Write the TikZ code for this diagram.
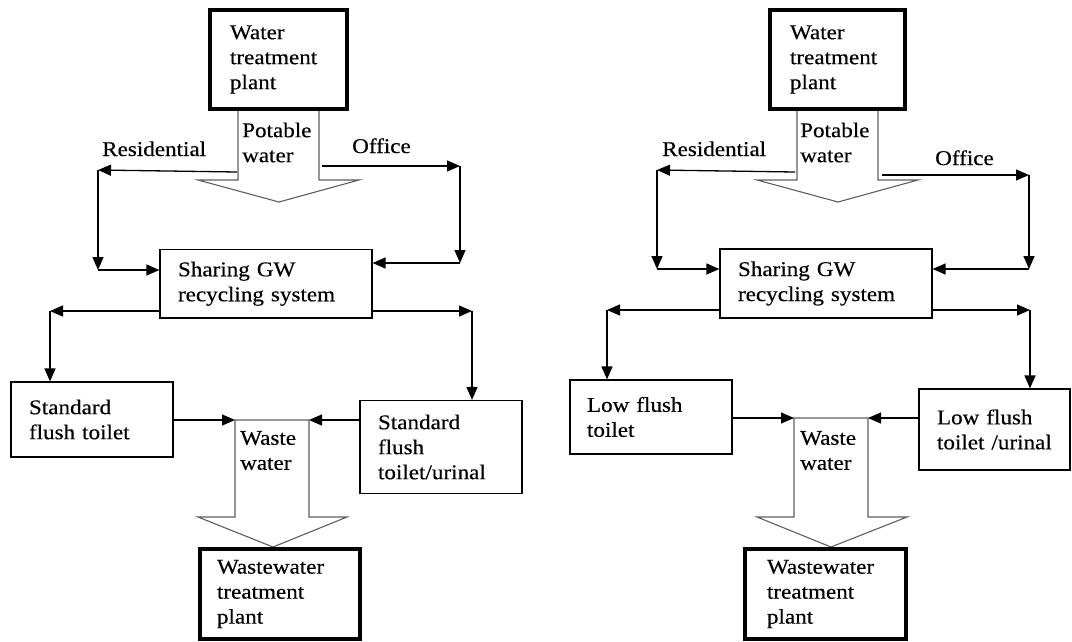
\documentclass[tikz,border=0pt]{standalone}
\usepackage{fontspec}
\setmainfont{Liberation Serif}[FakeStretch=1.1,FakeBold=0.35]
\usetikzlibrary{arrows.meta}
\definecolor{arrgray}{RGB}{95,95,95}
\newcommand\dfont{\fontsize{21}{25}\selectfont}
\tikzset{
  box/.style={draw=black, line width=1.2pt, rectangle, inner xsep=18pt, inner ysep=0pt, align=left, font=\dfont},
  plant/.style={box, line width=4pt},
  lbl/.style={inner sep=0pt, font=\dfont, align=left},
  conn/.style={draw=black, line width=1.3pt, -{Triangle[length=13pt,width=11pt]}},
  blockarrow/.style={draw=arrgray, line width=1.1pt, fill=white, line join=miter},
}
\begin{document}
\begin{tikzpicture}[x=1pt,y=-1pt]
\fill[white] (0,0) rectangle (1072,641);
\useasboundingbox (0,0) rectangle (1072,641);

% ================= LEFT =================
\draw[blockarrow] (238,109) -- (238,180) -- (198,180) -- (279,202) -- (359,180) -- (319,180) -- (319,109);
\node[plant, minimum width=137pt, minimum height=99pt, text width=97pt, inner xsep=20pt] (Lwtp) at (278.5,59.5) {Water\\treatment\\plant};
\node[lbl, anchor=west] (Lpot) at (242,142.5) {Potable\\water};
\node[lbl, anchor=base west] (Lresl) at (102,156) {Residential};
\node[lbl, anchor=base west] (Loffl) at (352,153) {Office};

\node[box, minimum width=212pt, minimum height=68.5pt, text width=176pt] (Lsh) at (266,283.75) {Sharing GW\\recycling system};

\coordinate (Lr0) at (237,172);
\coordinate (Lr1) at (98,170);
\coordinate (Lr2) at (98,270);
\draw[conn] (Lr0) -- (Lr1);
\draw[conn] (Lr1) -- (Lr2);
\draw[conn] (Lr2) -- (Lr2 -| Lsh.west);

\coordinate (Lo0) at (322,166);
\coordinate (Lo1) at (460,166);
\coordinate (Lo2) at (460,263);
\draw[conn] (Lo0) -- (Lo1);
\draw[conn] (Lo1) -- (Lo2);
\draw[conn] (Lo2) -- (Lo2 -| Lsh.east);

\node[box, minimum width=162pt, minimum height=75pt, text width=126pt] (Lsft) at (92,419.5) {Standard\\flush toilet};
\node[box, minimum width=162pt, minimum height=93pt, text width=126pt] (Lsftu) at (441,447) {Standard\\flush\\toilet/urinal};

\coordinate (Ll1) at (50,311);
\draw[conn] (Lsh.west |- Ll1) -- (Ll1);
\draw[conn] (Ll1) -- (Ll1 |- Lsft.north);
\coordinate (Lrr1) at (472,311);
\draw[conn] (Lsh.east |- Lrr1) -- (Lrr1);
\draw[conn] (Lrr1) -- (Lrr1 |- Lsftu.north);

\draw[blockarrow] (235,420) -- (235,517) -- (198,517) -- (273,547) -- (347,517) -- (309,517) -- (309,420) -- cycle;
\coordinate (Lw1) at (235,420);
\coordinate (Lw2) at (309,420);
\draw[conn] (Lsft.east |- Lw1) -- (Lw1);
\draw[conn] (Lsftu.west |- Lw2) -- (Lw2);
\node[lbl, anchor=west] (Lwl) at (240,450.5) {Waste\\water};

\node[plant, minimum width=160pt, minimum height=90pt, text width=126pt, inner xsep=17pt] (Lwwtp) at (280,594) {Wastewater\\treatment\\plant};

% ================= RIGHT =================
\draw[blockarrow] (797,109) -- (797,180) -- (757,180) -- (838,202) -- (918,180) -- (878,180) -- (878,109);
\node[plant, minimum width=135pt, minimum height=99pt, text width=95pt, inner xsep=20pt] (Rwtp) at (837.5,59.5) {Water\\treatment\\plant};
\node[lbl, anchor=west] (Rpot) at (800,142.5) {Potable\\water};
\node[lbl, anchor=base west] (Rresl) at (662,156) {Residential};
\node[lbl, anchor=base west] (Roffl) at (935,165) {Office};

\node[box, minimum width=212pt, minimum height=69pt, text width=176pt] (Rsh) at (826,283.5) {Sharing GW\\recycling system};

\coordinate (Rr0) at (795,172);
\coordinate (Rr1) at (657,170);
\coordinate (Rr2) at (657,269);
\draw[conn] (Rr0) -- (Rr1);
\draw[conn] (Rr1) -- (Rr2);
\draw[conn] (Rr2) -- (Rr2 -| Rsh.west);

\coordinate (Ro0) at (882,175);
\coordinate (Ro1) at (1029,175);
\coordinate (Ro2) at (1029,269);
\draw[conn] (Ro0) -- (Ro1);
\draw[conn] (Ro1) -- (Ro2);
\draw[conn] (Ro2) -- (Ro2 -| Rsh.east);

\node[box, minimum width=162pt, minimum height=74pt, text width=128pt, inner xsep=17pt] (Rlft) at (651,417) {Low flush\\toilet};
\node[box, minimum width=151pt, minimum height=81pt, text width=115pt] (Rlftu) at (994.5,429.5) {Low flush\\toilet~/urinal};

\coordinate (Rl1) at (607,310);
\draw[conn] (Rsh.west |- Rl1) -- (Rl1);
\draw[conn] (Rl1) -- (Rl1 |- Rlft.north);
\coordinate (Rrr1) at (1030,310);
\draw[conn] (Rsh.east |- Rrr1) -- (Rrr1);
\draw[conn] (Rrr1) -- (Rrr1 |- Rlftu.north);

\draw[blockarrow] (794,418) -- (794,517) -- (757,517) -- (831,547) -- (907,517) -- (868,517) -- (868,418) -- cycle;
\coordinate (Rw1) at (794,418);
\coordinate (Rw2) at (868,418);
\draw[conn] (Rlft.east |- Rw1) -- (Rw1);
\draw[conn] (Rlftu.west |- Rw2) -- (Rw2);
\node[lbl, anchor=west] (Rwl) at (800,450.5) {Waste\\water};

\node[plant, minimum width=161pt, minimum height=90pt, text width=117pt, inner xsep=22pt] (Rwwtp) at (825.5,594) {Wastewater\\treatment\\plant};
\end{tikzpicture}
\end{document}
